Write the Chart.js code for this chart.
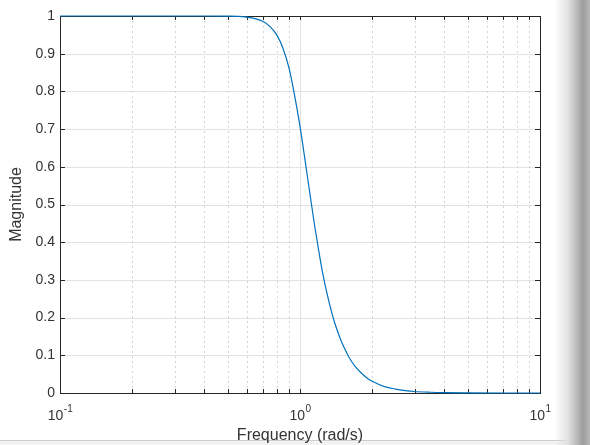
<!DOCTYPE html>
<html lang="en">
<head>
    <meta charset="UTF-8">
    <title>Magnitude Response</title>
    <script src="https://cdn.jsdelivr.net/npm/chart.js@4.4.1/dist/chart.umd.min.js"></script>
    <style>
        html, body {
            margin: 0;
            padding: 0;
        }
        body {
            width: 590px;
            height: 445px;
            overflow: hidden;
            background:
                linear-gradient(to right, rgba(255,255,255,0) 555px, rgba(225,225,225,1) 568px, #9d9d9d 583px, #b8b8b8 590px),
                linear-gradient(to bottom, #fff 440px, #cdcdcd 440px, #cdcdcd 441px, #f3f3f3 441px);
        }
        canvas {
            display: block;
        }
    </style>
</head>
<body>
    <canvas id="magChart" width="590" height="445"></canvas>

    <script>
        // frequency (rad/s) and magnitude
        const freqs = [0.1, 0.2, 0.3, 0.4, 0.5, 0.55, 0.6, 0.65, 0.7, 0.75, 0.8, 0.85, 0.9, 0.95,
                       1.0, 1.05, 1.1, 1.15, 1.2, 1.25, 1.3, 1.35, 1.4, 1.45, 1.5, 1.6, 1.7, 1.8, 1.9, 2.0,
                       2.25, 2.5, 2.75, 3.0, 3.5, 4, 5, 7, 10];
        const mags = [1, 1, 1, 1, 0.9995, 0.999, 0.997, 0.993, 0.986, 0.972, 0.95, 0.914, 0.862, 0.789,
                      0.707, 0.617, 0.528, 0.445, 0.373, 0.31, 0.26, 0.218, 0.183, 0.155, 0.131, 0.095, 0.070,
                      0.053, 0.040, 0.031, 0.017, 0.0105, 0.0065, 0.004, 0.002, 0.001, 0.0003, 0, 0];

        const yTicks = [0, 0.1, 0.2, 0.3, 0.4, 0.5, 0.6, 0.7, 0.8, 0.9, 1];
        const xMajor = [0.1, 1, 10];
        const xMinor = [0.2, 0.3, 0.4, 0.5, 0.6, 0.7, 0.8, 0.9, 2, 3, 4, 5, 6, 7, 8, 9];

        const axisColor = '#262626';
        const textColor = '#333333';
        const FONT = '"Liberation Sans", Arial, Helvetica, sans-serif';

        // MATLAB-ish axes: grid, box, inward ticks, 10^n labels
        const matlabAxes = {
            id: 'matlabAxes',
            beforeDatasetsDraw(chart) {
                const ctx = chart.ctx;
                const { left, right, top, bottom } = chart.chartArea;
                const x = chart.scales.x, y = chart.scales.y;
                ctx.save();

                // horizontal grid
                ctx.lineWidth = 1;
                ctx.strokeStyle = '#e2e2e2';
                yTicks.forEach(v => {
                    const py = Math.round(y.getPixelForValue(v)) + 0.5;
                    ctx.beginPath();
                    ctx.moveTo(left, py);
                    ctx.lineTo(right, py);
                    ctx.stroke();
                });

                // minor vertical grid (dotted)
                ctx.strokeStyle = '#d4d4d4';
                ctx.setLineDash([2, 3]);
                xMinor.forEach(v => {
                    const px = Math.round(x.getPixelForValue(v)) + 0.5;
                    ctx.beginPath();
                    ctx.moveTo(px, top);
                    ctx.lineTo(px, bottom);
                    ctx.stroke();
                });
                ctx.setLineDash([]);

                // major vertical grid
                ctx.strokeStyle = '#e2e2e2';
                xMajor.forEach(v => {
                    const px = Math.round(x.getPixelForValue(v)) + 0.5;
                    ctx.beginPath();
                    ctx.moveTo(px, top);
                    ctx.lineTo(px, bottom);
                    ctx.stroke();
                });

                // box
                ctx.strokeStyle = axisColor;
                ctx.strokeRect(left + 0.5, top + 0.5, right - left, bottom - top);

                // inward ticks
                ctx.beginPath();
                yTicks.forEach(v => {
                    const py = Math.round(y.getPixelForValue(v)) + 0.5;
                    ctx.moveTo(left, py); ctx.lineTo(left + 5, py);
                    ctx.moveTo(right, py); ctx.lineTo(right - 5, py);
                });
                xMajor.concat(xMinor).forEach(v => {
                    const px = Math.round(x.getPixelForValue(v)) + 0.5;
                    ctx.moveTo(px, bottom); ctx.lineTo(px, bottom - 4);
                    ctx.moveTo(px, top); ctx.lineTo(px, top + 4);
                });
                ctx.stroke();

                // x tick labels 10^n
                ctx.fillStyle = textColor;
                ctx.textBaseline = 'alphabetic';
                ctx.textAlign = 'left';
                xMajor.forEach(v => {
                    const px = x.getPixelForValue(v);
                    const e = Math.round(Math.log10(v));
                    const base = '10', sup = String(e);
                    ctx.font = '14px ' + FONT;
                    const w1 = ctx.measureText(base).width;
                    ctx.font = '10px ' + FONT;
                    const w2 = ctx.measureText(sup).width;
                    const start = px - (w1 + w2) / 2;
                    ctx.font = '14px ' + FONT;
                    ctx.fillText(base, start, bottom + 27);
                    ctx.font = '10px ' + FONT;
                    ctx.fillText(sup, start + w1 + 0.5, bottom + 19);
                });

                ctx.restore();
            }
        };

        new Chart(document.getElementById('magChart'), {
            type: 'line',
            data: {
                labels: freqs,
                datasets: [{
                    data: freqs.map((f, i) => ({ x: f, y: mags[i] })),
                    borderColor: '#0072BD',
                    borderWidth: 1.2,
                    pointRadius: 0,
                    cubicInterpolationMode: 'monotone',
                    fill: false,
                    clip: 3
                }]
            },
            options: {
                responsive: false,
                animation: false,
                layout: {
                    padding: { top: 16, right: 50, left: 0, bottom: 0 }
                },
                plugins: {
                    legend: { display: false },
                    tooltip: { enabled: false }
                },
                scales: {
                    x: {
                        type: 'logarithmic',
                        min: 0.1,
                        max: 10,
                        grid: { display: false },
                        border: { display: false },
                        ticks: { display: false },
                        title: {
                            display: true,
                            text: 'Frequency (rad/s)',
                            color: textColor,
                            font: { family: FONT, size: 16 },
                            padding: { top: 0, bottom: 0 }
                        },
                        afterFit(scale) { scale.height = 52; }
                    },
                    y: {
                        min: 0,
                        max: 1,
                        grid: { display: false, drawTicks: false },
                        border: { display: false },
                        afterBuildTicks(scale) {
                            scale.ticks = yTicks.map(v => ({ value: v }));
                        },
                        ticks: {
                            padding: 5,
                            color: textColor,
                            font: { family: FONT, size: 14 },
                            callback: v => (v === 0 || v === 1) ? String(v) : v.toFixed(1)
                        },
                        title: {
                            display: true,
                            text: 'Magnitude',
                            color: textColor,
                            font: { family: FONT, size: 16 },
                            padding: { top: 7, bottom: 0 }
                        },
                        afterFit(scale) { scale.width = 60; }
                    }
                }
            },
            plugins: [matlabAxes]
        });
    </script>
</body>
</html>
